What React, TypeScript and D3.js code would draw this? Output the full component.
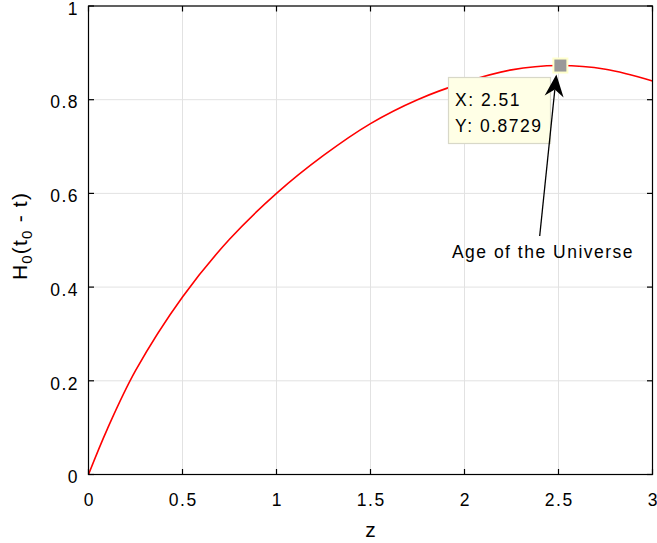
import * as d3 from 'd3';

const width = 657;
const height = 543;
const margin = { left: 88.5, right: 4.5, top: 6, bottom: 68.5 };

// curve
const zValues = [0, 0.1, 0.25, 0.5, 0.75, 1, 1.25, 1.5, 1.75, 2, 2.25, 2.5, 2.75, 3];
const hValues = [0, 0.097, 0.2216, 0.379, 0.502, 0.6, 0.681, 0.749, 0.8, 0.837, 0.8636, 0.8729, 0.865, 0.84];

const xTicks = [0, 0.5, 1, 1.5, 2, 2.5, 3];
const xTickLabels = ['0', '0.5', '1', '1.5', '2', '2.5', '3'];
const yTicks = [0, 0.2, 0.4, 0.6, 0.8, 1];
const yTickLabels = ['0', '0.2', '0.4', '0.6', '0.8', '1'];

// data tip + annotation
const tipPoint = [2.51, 0.8729];
const tipLines = ['X: 2.51', 'Y: 0.8729'];
const arrowTail = [2.4, 0.509];
const annotationText = 'Age of the Universe';

const font = '"Liberation Sans", Arial, Helvetica, sans-serif';
const fs = 17.5;
const ls = 1.5;

const App = () => {
  const x = d3.scaleLinear().domain([0, 3]).range([margin.left, width - margin.right]);
  const y = d3.scaleLinear().domain([0, 1]).range([height - margin.bottom, margin.top]);
  const x0 = x.range()[0], x1 = x.range()[1];
  const y0 = y.range()[0], y1 = y.range()[1];

  const line = d3.line<number>()
    .x((d, i) => x(zValues[i]))
    .y(d => y(d))
    .curve(d3.curveCatmullRom.alpha(0.5));

  const px = x(tipPoint[0]);
  const py = y(tipPoint[1]);

  // arrow from tail to just under the marker
  const tx = x(arrowTail[0]);
  const ty = y(arrowTail[1]);
  const hx = px - 4;
  const hy = py + 9;
  const ang = Math.atan2(hy - ty, hx - tx);
  const headLen = 22, headW = 9.5, notch = 15;
  const rot = (l: number, w: number) => [
    hx - l * Math.cos(ang) - w * Math.sin(ang),
    hy - l * Math.sin(ang) + w * Math.cos(ang),
  ];
  const pA = rot(headLen, headW);
  const pB = rot(notch, 0);
  const pC = rot(headLen, -headW);
  const headPath = `M${hx},${hy}L${pA[0]},${pA[1]}L${pB[0]},${pB[1]}L${pC[0]},${pC[1]}Z`;

  const boxL = 448.5, boxT = 77.5, boxW = 102, boxH = 66;

  return (
    <div style={{ position: 'fixed', left: 0, top: 0 }}>
      <svg width={width} height={height} style={{ display: 'block', background: '#fff' }} fontFamily={font}>
        {/* grid */}
        {xTicks.map((t, i) => (
          <line key={'gx' + i} x1={x(t)} x2={x(t)} y1={y0} y2={y1} stroke="#e2e2e2" strokeWidth={1} />
        ))}
        {yTicks.map((t, i) => (
          <line key={'gy' + i} x1={x0} x2={x1} y1={y(t)} y2={y(t)} stroke="#e2e2e2" strokeWidth={1} />
        ))}

        <path d={line(hValues) || ''} fill="none" stroke="#ff0000" strokeWidth={1.6} />

        {/* box + ticks */}
        <rect x={x0} y={y1} width={x1 - x0} height={y0 - y1} fill="none" stroke="#000" strokeWidth={1.2} />
        {xTicks.map((t, i) => (
          <g key={'tx' + i}>
            <line x1={x(t)} x2={x(t)} y1={y0} y2={y0 - 5.5} stroke="#000" strokeWidth={1.2} />
            <line x1={x(t)} x2={x(t)} y1={y1} y2={y1 + 5.5} stroke="#000" strokeWidth={1.2} />
            <text x={x(t) + ls / 2} y={505.5} textAnchor="middle" fontSize={fs} letterSpacing={ls} fill="#000">{xTickLabels[i]}</text>
          </g>
        ))}
        {yTicks.map((t, i) => (
          <g key={'ty' + i}>
            <line x1={x0} x2={x0 + 5.5} y1={y(t)} y2={y(t)} stroke="#000" strokeWidth={1.2} />
            <line x1={x1} x2={x1 - 5.5} y1={y(t)} y2={y(t)} stroke="#000" strokeWidth={1.2} />
            <text x={79} y={y(t) + 8.7} textAnchor="end" fontSize={fs} letterSpacing={ls} fill="#000">{yTickLabels[i]}</text>
          </g>
        ))}

        {/* axis labels */}
        <text x={(x0 + x1) / 2} y={537} textAnchor="middle" fontSize={21} fill="#000">z</text>
        <text transform={`translate(27,236) rotate(-90)`} textAnchor="middle" fontSize={21} letterSpacing={1.2} fill="#000">
          H<tspan fontSize={15} dy={5}>0</tspan>
          <tspan dy={-5}>(t</tspan>
          <tspan fontSize={15} dy={5}>0</tspan>
          <tspan dy={-5}> - t)</tspan>
        </text>

        {/* data tip */}
        <rect x={boxL} y={boxT} width={boxW} height={boxH} fill="#ffffe6" stroke="#d8d8c8" strokeWidth={1.2} />
        {tipLines.map((s, i) => (
          <text key={'tl' + i} x={boxL + 6.5} y={boxT + 28 + i * 26.5} fontSize={fs} letterSpacing={ls} fill="#000">{s}</text>
        ))}
        <rect x={px - 7} y={py - 7} width={14} height={14} fill="#999999" stroke="#ffffcc" strokeWidth={2} />

        {/* annotation arrow */}
        <line x1={tx} y1={ty} x2={pB[0]} y2={pB[1]} stroke="#000" strokeWidth={1.3} />
        <path d={headPath} fill="#000" />
        <text x={543} y={258} textAnchor="middle" fontSize={fs} letterSpacing={ls} fill="#000">{annotationText}</text>
      </svg>
    </div>
  );
};

export default App;
